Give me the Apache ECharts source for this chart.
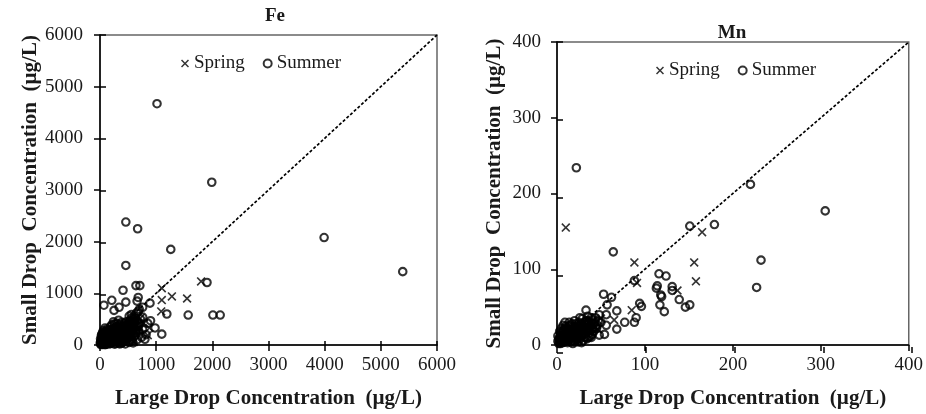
<!DOCTYPE html>
<html>
<head>
<meta charset="utf-8">
<script src="https://cdn.jsdelivr.net/npm/echarts@6/dist/echarts.min.js"></script>
<style>
html,body{margin:0;padding:0;background:#fff;}
#chart{width:926px;height:414px;}
</style>
</head>
<body>
<div id="chart"></div>
<script>
// ---------- DATA ----------
const feTicks = [0, 1000, 2000, 3000, 4000, 5000, 6000];
const mnTicks = [0, 100, 200, 300, 400];

const feSpring = [
  [1800,1230],[1100,1100],[1100,870],[1280,940],[1550,900],[1090,650],[850,190],
  [150,80],[300,220],[420,330],[560,460],[700,320],[780,420],[500,120],[350,60],
  [220,180],[90,40],[640,180],[880,330],[260,30],[600,60],[120,150],[380,280],
  [480,200],[200,90],[60,20],[330,140],[530,300],[720,520],[450,60]
];
const feSummer = [
  [1015,4670],[1990,3150],[3990,2080],[5390,1420],[460,2380],[670,2250],[1260,1850],
  [460,1540],[640,1150],[710,1150],[410,1060],[1905,1210],[210,865],[460,830],[70,770],
  [250,670],[340,730],[680,920],[660,850],[890,810],[1190,600],[1570,580],[2010,580],
  [2140,580],[680,650],[1100,210],[980,330],
  [20,20],[40,60],[60,30],[80,90],[100,50],[120,130],[150,90],[180,160],[200,100],
  [220,190],[250,130],[270,230],[300,190],[320,270],[350,160],[380,310],[400,240],
  [420,350],[450,280],[480,390],[500,320],[520,430],[550,360],[580,460],[600,400],
  [620,510],[650,300],[700,250],[740,150],[800,110],[850,420],[900,470],[30,110],
  [50,160],[70,210],[90,260],[110,190],[130,310],[160,230],[190,360],[230,300],
  [260,410],[290,350],[310,150],[340,80],[370,120],[400,50],[430,150],[460,100],
  [500,200],[540,150],[580,250],[620,180],[680,430],[720,500],[760,540],[10,60],
  [15,10],[25,180],[45,240],[65,120],[85,10],[140,40],[170,20],[210,40],[240,60],
  [280,30],[330,40],[360,250],[440,200],[470,450],[560,520],[610,560],[650,620],
  [700,690],[760,730],[660,100],[590,40],
  [35,40],[55,80],[75,50],[95,120],[115,80],[135,170],[155,130],[175,60],[195,210],
  [215,140],[235,250],[255,80],[275,170],[295,280],[315,220],[335,330],[355,110],
  [375,200],[395,360],[415,270],[435,100],[455,320],[475,230],[495,420],[515,180],
  [535,380],[555,260],[575,80],[595,330],[615,440],[635,230],[655,470],[675,350],
  [120,20],[190,30],[260,15],[300,60],[380,30],[450,20],[520,50],[560,110],[5,30],
  [20,90],[45,10],[105,240],[145,280],[60,280],[90,330],[170,300],[210,390],[240,450],
  [300,420],[330,480],[390,440],[560,590],[520,560],[700,390],[760,300],[820,200],
  [10,120],[30,200],[50,100],[70,150],[90,180],[110,110],[130,220],[150,170],[170,250],
  [190,130],[210,280],[230,200],[250,320],[270,140],[290,240],[310,360],[330,190],
  [350,290],[370,400],[390,180],[410,300],[430,420],[450,360],[470,300],[490,260],
  [510,360],[530,460],[550,410],[570,350],[590,500],[100,10],[160,60],[230,90],
  [280,110],[350,20],[420,60],[480,140],[540,220],[600,290],[640,360],[680,280],
  [30,60],[60,70],[80,140],[140,100],[200,60],[320,100],[400,140],[460,180],[520,250]
];
const feOneToOne = [[0,0],[6000,6000]];

const mnSpring = [
  [10,155],[165,149],[156,109],[158,84],[137,72],[88,109],[91,82],[85,46],[65,33],[46,21],
  [5,3],[12,8],[20,15],[28,10],[35,25],[15,20],[8,12],[40,30],[25,5],[50,35],[32,18]
];
const mnSummer = [
  [22,234],[220,212],[305,177],[179,159],[151,157],[232,112],[227,76],[116,94],[124,91],
  [114,78],[113,75],[131,77],[131,72],[119,64],[139,60],[117,53],[122,44],[146,50],
  [151,53],[64,123],[88,85],[118,66],[53,67],[62,63],[57,53],[94,55],[96,51],[33,46],
  [56,40],[68,45],[77,30],[88,30],[90,36],[68,21],[33,31],[48,13],[54,14],[56,26],[39,10],
  [2,2],[4,6],[6,3],[8,9],[10,5],[12,12],[14,8],[16,15],[18,10],[20,18],[22,13],[24,20],
  [26,16],[28,24],[30,19],[32,27],[34,22],[36,30],[38,25],[40,33],[42,28],[44,36],[5,12],
  [7,18],[9,22],[11,16],[13,25],[15,10],[17,28],[19,6],[21,24],[23,8],[25,30],[27,12],
  [29,35],[31,14],[33,20],[35,38],[37,16],[3,10],[1,5],[6,15],[10,25],[12,3],[18,2],
  [24,4],[30,6],[36,10],[42,18],[45,22],[48,40],[50,30],
  [3,4],[5,8],[7,5],[9,14],[11,9],[13,18],[15,14],[17,20],[19,16],[21,11],[23,26],
  [25,18],[27,28],[29,22],[31,30],[33,26],[35,32],[37,24],[39,36],[41,22],[43,30],
  [4,16],[8,20],[14,30],[20,32],[26,36],[16,4],[22,6],[28,3],[34,8],[40,14],[46,26],
  [2,8],[6,10],[10,14],[12,20],[18,24],[24,12],
  [1,12],[3,18],[5,22],[7,26],[9,30],[11,20],[13,8],[15,26],[17,12],[19,22],[21,28],
  [23,16],[25,24],[27,20],[29,14],[31,24],[33,32],[35,18],[37,28],[39,20],[4,2],
  [8,4],[12,6],[16,8],[20,4],[26,8],[32,10],[38,12],[44,24],[47,32]
];
const mnOneToOne = [[0,0],[400,400]];

// ---------- STYLE ----------
const FONT = "'Liberation Serif','Times New Roman',serif";
const TXT = '#1a1a1a';
const XPATH = 'path://M0,1.3L1.3,0L5,3.7L8.7,0L10,1.3L6.3,5L10,8.7L8.7,10L5,6.3L1.3,10L0,8.7L3.7,5Z';

const g = [
  {left:100, top:35, width:337, height:312},
  {left:557, top:42, width:355, height:311}
];

function plainLabel(v){ return String(v); }

function mainAxisX(gi, max, interval){
  return {
    gridIndex: gi, type:'value', min:0, max:max, interval:interval, position:'bottom',
    axisLine:{show:true, onZero:false, lineStyle:{color:'#000', width:1.5}},
    axisTick:{show:true, length:6, lineStyle:{color:'#000', width:1.5}},
    axisLabel:{fontFamily:FONT, fontSize:19, color:TXT, margin:11, formatter:plainLabel},
    splitLine:{show:false},
    name:'Large Drop Concentration  (µg/L)', nameLocation:'middle', nameGap:43,
    nameTextStyle:{fontFamily:FONT, fontWeight:'bold', fontSize:21, color:TXT}
  };
}
function mainAxisY(gi, max, interval, gap, margin){
  return {
    gridIndex: gi, type:'value', min:0, max:max, interval:interval, position:'left',
    axisLine:{show:true, onZero:false, lineStyle:{color:'#000', width:1.5}},
    axisTick:{show:true, length:6, lineStyle:{color:'#000', width:1.5}},
    axisLabel:{fontFamily:FONT, fontSize:19, color:TXT, margin:margin, formatter:plainLabel},
    splitLine:{show:false},
    name:'Small Drop  Concentration  (µg/L)', nameLocation:'middle', nameGap:gap, nameRotate:90,
    nameTextStyle:{fontFamily:FONT, fontWeight:'bold', fontSize:21, color:TXT}
  };
}
function innerAxis(gi, max, interval, pos){
  return {
    gridIndex: gi, type:'value', min:0, max:max, interval:interval, position:pos,
    axisLine:{show:false, onZero:false},
    axisTick:{show:true, inside:true, length:6, lineStyle:{color:'#000', width:1.5}},
    axisLabel:{show:false}, splitLine:{show:false}
  };
}

const summerStyle = {color:'rgba(255,255,255,0)', borderColor:'#000', borderWidth:2.1};
const springStyle = {color:'#000'};

const option = {
  backgroundColor:'#fff',
  animation:false,
  title:[
    {text:'Fe', left:270, top:2, textAlign:'center',
     textStyle:{fontFamily:FONT, fontWeight:'bold', fontSize:19, color:TXT}},
    {text:'Mn', left:727, top:19, textAlign:'center',
     textStyle:{fontFamily:FONT, fontWeight:'bold', fontSize:19, color:TXT}}
  ],
  legend:[
    {left:176, top:49, itemWidth:8, itemHeight:8, itemGap:18,
     textStyle:{fontFamily:FONT, fontSize:19, color:TXT},
     data:[{name:'Spring', icon:XPATH},{name:'Summer', icon:'circle'}]},
    {left:651, top:56, itemWidth:8, itemHeight:8, itemGap:18,
     textStyle:{fontFamily:FONT, fontSize:19, color:TXT},
     data:[{name:'Spring', icon:XPATH},{name:'Summer', icon:'circle'}]}
  ],
  grid:[
    Object.assign({show:true, borderColor:'#666', borderWidth:1.5, backgroundColor:'transparent'}, g[0]),
    Object.assign({show:true, borderColor:'#666', borderWidth:1.5, backgroundColor:'transparent'}, g[1]),
    Object.assign({show:false}, g[0]),
    Object.assign({show:false}, g[1])
  ],
  xAxis:[
    mainAxisX(0, 6000, 1000),
    mainAxisX(1, 400, 100),
    innerAxis(2, 6000, 1000, 'bottom'),
    innerAxis(3, 400, 100, 'bottom')
  ],
  yAxis:[
    mainAxisY(0, 6000, 1000, 56, 17),
    mainAxisY(1, 400, 100, 52, 16),
    innerAxis(2, 6000, 1000, 'left'),
    innerAxis(3, 400, 100, 'left')
  ],
  series:[
    {type:'line', name:'1:1 Fe', xAxisIndex:0, yAxisIndex:0, data:feOneToOne, symbol:'none', silent:true,
     lineStyle:{color:'#000', width:1.7, type:[3,2]}, z:1},
    {type:'line', name:'1:1 Mn', xAxisIndex:1, yAxisIndex:1, data:mnOneToOne, symbol:'none', silent:true,
     lineStyle:{color:'#000', width:1.7, type:[3,2]}, z:1},
    {type:'scatter', name:'Summer', xAxisIndex:0, yAxisIndex:0, data:feSummer, symbol:'circle', symbolSize:7.5,
     itemStyle:summerStyle, z:3},
    {type:'scatter', name:'Spring', xAxisIndex:0, yAxisIndex:0, data:feSpring, symbol:XPATH, symbolSize:9,
     itemStyle:springStyle, z:4},
    {type:'scatter', name:'Summer', xAxisIndex:1, yAxisIndex:1, data:mnSummer, symbol:'circle', symbolSize:7.5,
     itemStyle:summerStyle, z:3},
    {type:'scatter', name:'Spring', xAxisIndex:1, yAxisIndex:1, data:mnSpring, symbol:XPATH, symbolSize:9,
     itemStyle:springStyle, z:4}
  ]
};

const chart = echarts.init(document.getElementById('chart'), null, {renderer:'canvas'});
chart.setOption(option);
</script>
</body>
</html>
